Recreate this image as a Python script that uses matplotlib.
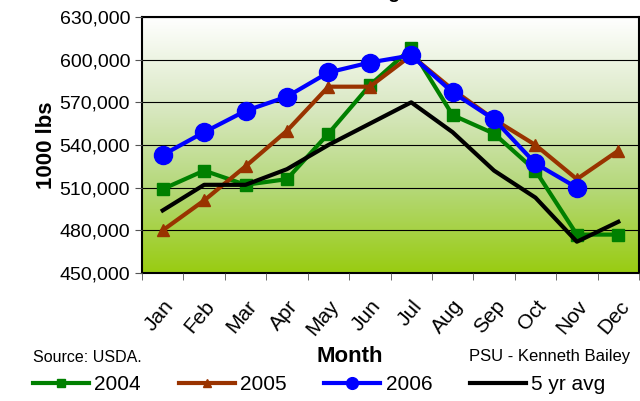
import numpy as np
import matplotlib
matplotlib.use("Agg")
import matplotlib.pyplot as plt
from matplotlib.colors import LinearSegmentedColormap
from matplotlib.ticker import FuncFormatter

plt.rcParams['font.family'] = ['Liberation Sans', 'DejaVu Sans']

months = ["Jan", "Feb", "Mar", "Apr", "May", "Jun", "Jul", "Aug", "Sep", "Oct", "Nov", "Dec"]
y2004 = [509000, 522000, 512000, 516000, 548000, 582000, 608000, 561000, 548000, 522000, 477000, 477000]
y2005 = [480000, 501000, 525000, 550000, 581000, 581000, 603000, 579000, 558000, 540000, 516000, 536000]
y2006 = [533000, 549000, 564000, 574000, 591000, 598000, 603000, 577000, 558000, 527000, 510000, np.nan]
avg5 = [494000, 512000, 512000, 523000, 540000, 555000, 570000, 549000, 522000, 503000, 472000, 486000]

fig = plt.figure(figsize=(6.4, 4.01), dpi=100)
ax = fig.add_axes([142/640, 1-273/401, 497/640, 256/401])

# gradient background, white at top to yellow-green at bottom
cmap = LinearSegmentedColormap.from_list("bg", ["#ffffff", "#dbe9c6", "#b5d87a", "#99cc11"])
grad = np.linspace(0, 1, 256).reshape(-1, 1)
ax.imshow(grad, aspect='auto', cmap=cmap, origin='upper',
          extent=[-0.5, 11.5, 450000, 630000], zorder=0)

x = np.arange(len(months))
ax.plot(x, y2004, color="#008000", lw=3, marker="s", ms=9, label="2004", zorder=3)
ax.plot(x, y2005, color="#993300", lw=3, marker="^", ms=9, label="2005", zorder=3)
ax.plot(x, y2006, color="#0000ff", lw=3, marker="o", ms=13, label="2006", zorder=4)
ax.plot(x, avg5, color="black", lw=3, label="5 yr avg", zorder=3)

ax.set_xlim(-0.5, 11.5)
ax.set_ylim(450000, 630000)
ax.set_yticks(np.arange(450000, 630001, 30000))
ax.yaxis.set_major_formatter(FuncFormatter(lambda v, p: f"{int(v):,}"))
ax.grid(axis='y', color='black', lw=0.8, zorder=1)
ax.set_axisbelow(False)

ax.set_xticks(x)
ax.set_xticklabels(months, rotation=50, ha='right', rotation_mode='anchor', fontsize=15)
ax.set_xticks(np.arange(-0.5, 12, 1), minor=True)
ax.tick_params(axis='x', which='major', length=0, pad=17)
ax.tick_params(axis='x', which='minor', length=5, direction='out', color='#555555')
ax.tick_params(axis='y', labelsize=14, length=5, direction='out', color='#555555')

for s in ax.spines.values():
    s.set_color('black')
    s.set_linewidth(1.5)

ax.set_ylabel("1000 lbs", fontsize=16, fontweight='bold', labelpad=2)

fig.text(350/640, 1-357/401, "Month", fontsize=16, fontweight='bold', ha='center', va='center')
fig.text(33/640, 1-358/401, "Source: USDA.", fontsize=11.5, ha='left', va='center')
fig.text(630/640, 1-357/401, "PSU - Kenneth Bailey", fontsize=12, ha='right', va='center')

# title sits above the canvas, only its descender shows
fig.text(0.51, 1.004, "Cheese in Storage", fontsize=14, fontweight='bold', ha='center', va='baseline')

fig.legend(loc='center left', bbox_to_anchor=(33/640, 1-385/401), ncol=4, frameon=False,
           fontsize=15, handlelength=2.7, handletextpad=0.25, columnspacing=1.8,
           borderpad=0, borderaxespad=0, markerscale=0.65)

fig.savefig("out.png", dpi=100)
